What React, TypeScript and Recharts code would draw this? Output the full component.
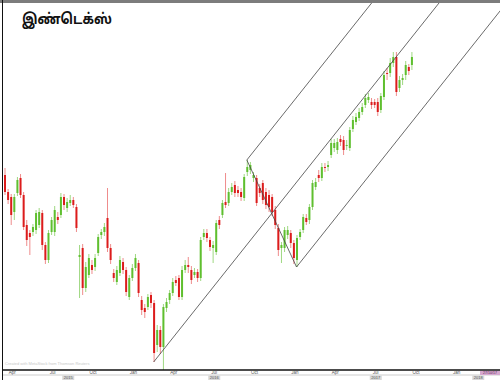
import React from "react";
import { ComposedChart, Bar, XAxis, YAxis, ReferenceLine } from "recharts";

// weekly candles, values in chart units (height above the time axis)
const opens = [
  195, 178, 173, 158, 177, 192, 175, 145, 137, 138, 140, 145, 157, 125, 110, 138, 138, 153, 155, 173,
  162, 167, 170, 163, 113, 122, 82, 95, 105, 103, 117, 135, 138, 152, 122, 97, 88, 97, 108, 100,
  73, 92, 102, 107, 70, 62, 63, 75, 67, 25, 40, 23, 62, 70, 77, 90, 92, 73, 100, 105,
  100, 95, 98, 92, 133, 137, 130, 122, 118, 150, 155, 168, 167, 178, 185, 180, 178, 172, 198, 200,
  192, 192, 182, 187, 178, 175, 173, 160, 142, 122, 122, 135, 137, 127, 110, 133, 140, 152, 150, 163,
  183, 195, 192, 203, 203, 215, 222, 220, 231, 230, 224, 222, 241, 248, 252, 258, 265, 270, 268, 268,
  268, 260, 273, 297, 297, 307, 313, 282, 290, 295, 303, 305,
];
const highs = [
  202, 181, 176, 176, 193, 196, 178, 150, 140, 146, 160, 162, 160, 128, 140, 153, 164, 158, 177, 176,
  172, 175, 173, 166, 125, 126, 108, 116, 110, 116, 136, 141, 147, 182, 126, 101, 104, 114, 112, 103,
  95, 106, 116, 110, 74, 66, 76, 78, 70, 45, 44, 66, 72, 80, 92, 94, 95, 104, 110, 113,
  104, 102, 101, 133, 141, 141, 133, 129, 150, 154, 170, 197, 182, 187, 189, 184, 182, 196, 210, 208,
  198, 195, 186, 190, 182, 180, 176, 164, 146, 128, 143, 144, 140, 130, 135, 141, 156, 156, 166, 190,
  192, 200, 207, 207, 209, 231, 231, 232, 235, 234, 230, 243, 254, 257, 262, 267, 276, 277, 272, 271,
  272, 277, 299, 302, 312, 318, 318, 294, 296, 309, 306, 318,
];
const lows = [
  175, 166, 145, 150, 174, 172, 140, 124, 115, 134, 136, 142, 120, 106, 107, 135, 134, 146, 152, 160,
  158, 164, 162, 138, 72, 75, 78, 92, 96, 99, 114, 131, 134, 118, 106, 88, 85, 94, 96, 74,
  70, 89, 99, 73, 55, 52, 60, 62, 8, 18, 16, 0, 58, 66, 74, 84, 70, 70, 97, 97,
  86, 92, 88, 89, 130, 128, 119, 107, 115, 141, 152, 162, 164, 175, 173, 173, 169, 169, 194, 196,
  188, 164, 173, 166, 161, 158, 154, 141, 114, 107, 118, 131, 122, 106, 103, 130, 137, 145, 146, 160,
  180, 188, 189, 198, 199, 212, 218, 216, 224, 215, 220, 219, 238, 245, 249, 255, 262, 267, 261, 262,
  254, 257, 270, 290, 293, 303, 274, 278, 285, 290, 295, 300,
];
const closes = [
  178, 170, 155, 173, 190, 175, 143, 130, 133, 143, 157, 158, 125, 110, 137, 150, 160, 150, 173, 165,
  168, 170, 165, 142, 115, 82, 103, 112, 100, 112, 133, 138, 143, 122, 110, 92, 100, 110, 100, 78,
  92, 102, 112, 77, 60, 58, 73, 67, 17, 40, 23, 63, 68, 77, 88, 87, 73, 100, 105, 103,
  90, 98, 92, 130, 137, 132, 123, 125, 147, 145, 167, 165, 178, 183, 177, 177, 173, 193, 203, 205,
  195, 167, 177, 170, 165, 163, 158, 145, 120, 125, 140, 140, 127, 112, 132, 138, 153, 148, 163, 187,
  188, 192, 203, 202, 205, 227, 227, 228, 228, 220, 225, 240, 250, 253, 258, 263, 272, 273, 265, 265,
  258, 274, 295, 296, 307, 313, 278, 290, 292, 305, 299, 313,
];

const monthTicks = [2.5, 15.5, 28.5, 41.5, 54.5, 67.5, 80.5, 93.5, 106.5, 119.5, 132.5, 145.5];
const monthLabels = ["Apr", "Jul", "Oct", "Jan", "Apr", "Jul", "Oct", "Jan", "Apr", "Jul", "Oct", "Jan"];
const yearTicks = [20.5, 67.5, 119.5, 152.5];
const yearLabels = ["2015", "2016", "2017", "2018"];
const lastDateLabel = "27/10/17";
const footnote = "Created with MetaStock from Thomson Reuters";

// Andrews pitchfork pivots: handle, upper, lower
const pivotX = [48, 78, 94];
const pivotY = [8, 210, 103];

const data = opens.map((o, i) => ({
  i,
  open: o,
  high: highs[i],
  low: lows[i],
  close: closes[i],
  range: [lows[i], highs[i]],
}));

const midX = (pivotX[1] + pivotX[2]) / 2;
const midY = (pivotY[1] + pivotY[2]) / 2;
const slope = (midY - pivotY[0]) / (midX - pivotX[0]);
const farX = 175;
const tines = [0, 1, 2].map((k) => [
  { x: pivotX[k], y: pivotY[k] },
  { x: farX, y: pivotY[k] + (farX - pivotX[k]) * slope },
]);

const Candle = (props: any) => {
  const { x, y, width, height, payload } = props;
  const { open, close, high, low } = payload;
  const up = close >= open;
  const body = up ? "#5fbf2f" : "#dc1c1c";
  const wick = up ? "#9fd882" : "#ef8c8c";
  const k = high === low ? 0 : height / (high - low);
  const top = y + (high - Math.max(open, close)) * k;
  const bot = y + (high - Math.min(open, close)) * k;
  const cx = x + width / 2;
  return (
    <g>
      <line x1={cx} x2={cx} y1={y} y2={y + height} stroke={wick} strokeWidth={1} />
      <rect x={x} y={top} width={width} height={Math.max(1, bot - top)} fill={body} />
    </g>
  );
};

const MonthTick = ({ x, y, index }: any) => (
  <text x={x} y={y + 4} textAnchor="middle" fontSize={4.5} fill="#555" fontFamily="Arial, sans-serif">
    {monthLabels[index]}
  </text>
);

const YearTick = ({ x, y, index }: any) => (
  <g>
    <rect x={x - 6} y={y + 0.5} width={12} height={4.5} fill="#d8d8d8" />
    <text x={x} y={y + 4.2} textAnchor="middle" fontSize={4} fill="#555" fontFamily="Arial, sans-serif">
      {yearLabels[index]}
    </text>
  </g>
);

export default function App() {
  return (
    <div style={{ position: "absolute", left: 0, top: 0, width: 500, height: 380, background: "#fff", overflow: "hidden" }}>
      <div style={{ position: "absolute", left: 0, top: 0, width: 500, height: 3, background: "#7c7c7c" }} />
      <div style={{ position: "absolute", left: 2, top: 0, width: 1, height: 380, background: "#111" }} />
      <ComposedChart
        width={500}
        height={380}
        data={data}
        margin={{ top: 3, right: 0, left: 3, bottom: 0 }}
        style={{ position: "absolute", left: 0, top: 0 }}
      >
        <XAxis
          xAxisId="m"
          dataKey="i"
          type="number"
          domain={[-0.5, 159.5]}
          ticks={monthTicks}
          interval={0}
          height={5}
          tickSize={0}
          tickMargin={0}
          tickLine={false}
          axisLine={{ stroke: "#111", strokeWidth: 1.5 }}
          tick={<MonthTick />}
        />
        <XAxis
          xAxisId="y"
          dataKey="i"
          type="number"
          domain={[-0.5, 159.5]}
          ticks={yearTicks}
          interval={0}
          height={5}
          tickSize={0}
          tickMargin={0}
          tickLine={false}
          axisLine={{ stroke: "#999", strokeWidth: 0.5 }}
          tick={<YearTick />}
        />
        <YAxis hide domain={[0, 367]} />
        <Bar xAxisId="m" dataKey="range" barSize={2} shape={<Candle />} isAnimationActive={false} />
        {tines.map((seg, k) => (
          <ReferenceLine key={k} xAxisId="m" segment={seg} stroke="#444" strokeWidth={0.8} ifOverflow="hidden" />
        ))}
        <ReferenceLine
          xAxisId="m"
          segment={[
            { x: pivotX[1], y: pivotY[1] },
            { x: pivotX[2], y: pivotY[2] },
          ]}
          stroke="#444"
          strokeWidth={0.8}
          ifOverflow="hidden"
        />
      </ComposedChart>
      <div
        style={{
          position: "absolute",
          left: 5,
          top: 361,
          fontSize: 4,
          lineHeight: "5px",
          color: "#c8c8c8",
          whiteSpace: "nowrap",
          fontFamily: "Arial, sans-serif",
        }}
      >
        {footnote}
      </div>
      <div
        style={{
          position: "absolute",
          left: 480,
          top: 370.5,
          width: 20,
          height: 4.5,
          background: "#d6a9cf",
          color: "#5a2a55",
          fontSize: 3.6,
          lineHeight: "4.5px",
          textAlign: "center",
          whiteSpace: "nowrap",
          fontFamily: "Arial, sans-serif",
        }}
      >
        {lastDateLabel}
      </div>
      <div
        style={{
          position: "absolute",
          left: 22,
          top: 11,
          fontSize: 15,
          lineHeight: "20px",
          fontWeight: "bold",
          color: "#111",
          transform: "scaleX(0.84)",
          transformOrigin: "left top",
          whiteSpace: "nowrap",
          fontFamily: "'Noto Sans Tamil', 'Lohit Tamil', Latha, sans-serif",
        }}
      >
        இண்டெக்ஸ்
      </div>
    </div>
  );
}
